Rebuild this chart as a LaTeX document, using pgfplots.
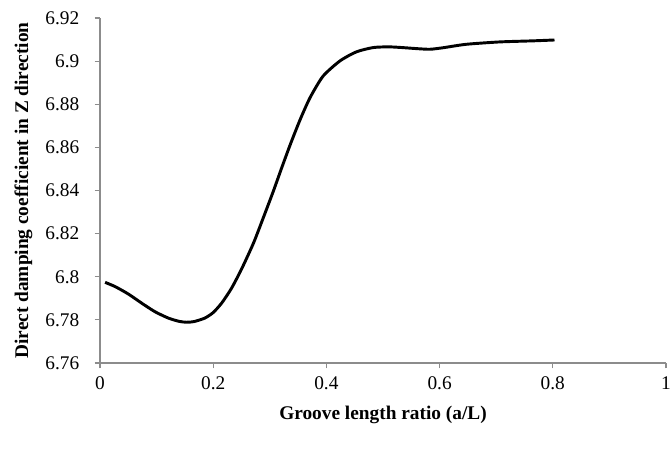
\documentclass[border=0pt]{standalone}
\usepackage{pgfplots}
\pgfplotsset{compat=1.18}
\usepackage{fontspec}
\setmainfont{Liberation Serif}
\begin{document}
\begin{tikzpicture}
\begin{axis}[
  at={(0,0)}, anchor=south west,
  scale only axis,
  width=424.5pt, height=258.75pt,
  xmin=0, xmax=1, ymin=6.76, ymax=6.92,
  axis x line=bottom, axis y line=left,
  axis line style={-, draw=gray!90, line width=0.8pt},
  tick style={draw=gray!90, line width=0.8pt},
  tick align=outside,
  major tick length=4pt,
  xtick={0,0.2,0.4,0.6,0.8,1},
  ytick={6.76,6.78,6.8,6.82,6.84,6.86,6.88,6.9,6.92},
  /pgf/number format/assume math mode=true,
  /pgf/number format/.cd, fixed, precision=2, /pgfplots/.cd,
  ticklabel style={font=\fontsize{14.5}{17}\selectfont},
  yticklabel style={xshift=-8pt},
  xticklabel style={yshift=-3pt},
  xlabel={Groove length ratio (a/L)},
  ylabel={Direct damping coefficient in Z direction},
  label style={font=\fontsize{14.5}{17}\selectfont\bfseries},
  xlabel style={yshift=-5pt},
  ylabel style={yshift=3pt},
  clip=false,
]
\addplot[black, line width=2.2pt, smooth, tension=0.4, line join=round] coordinates {
(0.009,6.7974)
(0.027,6.7954)
(0.050,6.7920)
(0.074,6.7877)
(0.097,6.7838)
(0.121,6.7808)
(0.140,6.7793)
(0.153,6.7789)
(0.166,6.7792)
(0.185,6.7808)
(0.200,6.7834)
(0.215,6.7878)
(0.232,6.7945)
(0.250,6.8035)
(0.271,6.8155)
(0.288,6.8270)
(0.306,6.8395)
(0.321,6.8505)
(0.336,6.8612)
(0.353,6.8725)
(0.371,6.8830)
(0.394,6.8930)
(0.424,6.9001)
(0.453,6.9043)
(0.483,6.9063)
(0.512,6.9066)
(0.544,6.9061)
(0.559,6.9058)
(0.583,6.9055)
(0.606,6.9062)
(0.647,6.9078)
(0.706,6.9089)
(0.765,6.9094)
(0.803,6.9098)
};
\end{axis}
\pgfresetboundingbox
\path (-75pt,-66.75pt) rectangle (427.5pt,272.25pt);
\end{tikzpicture}
\end{document}
